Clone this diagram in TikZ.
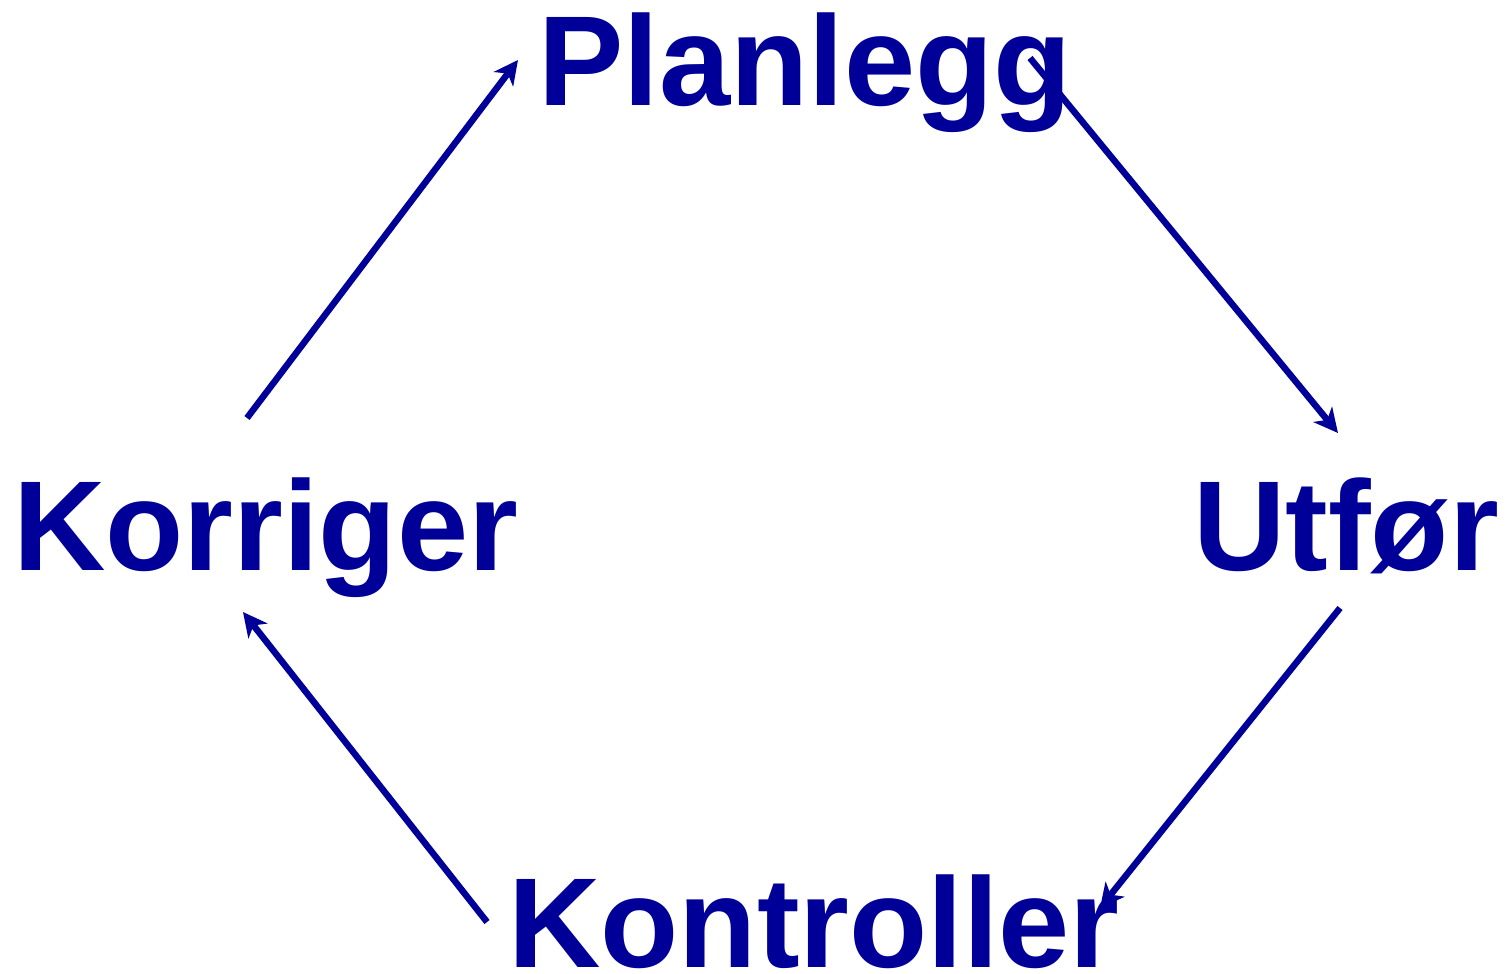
\documentclass[tikz,border=0pt]{standalone}
\usepackage{fontspec}
\setmainfont{Liberation Sans}
\usetikzlibrary{arrows.meta}
\definecolor{navy}{HTML}{000099}
\begin{document}
\begin{tikzpicture}[x=1pt,y=-1pt,
  word/.style={inner sep=0pt,anchor=base west,text=navy,
    font=\fontsize{128}{128}\selectfont\bfseries},
  flow/.style={draw=navy,line width=6.5pt,
    -{Stealth[length=24pt,width=24pt,inset=7pt]}}]
\useasboundingbox (0,0) rectangle (1512,974);
% the four stages
\node[word] (plan) at (538,105) {Planlegg};
\node[word] (utfor) at (1193,570) {Utfør};
\node[word] (kontroll) at (508,967) {Kontroller};
\node[word] (korrig) at (13,570) {Korriger};
% connector ends
\coordinate (korrigOut) at (247,418);
\coordinate (planIn) at (518,60);
\coordinate (planOut) at (1030,58);
\coordinate (utforIn) at (1338,433);
\coordinate (utforOut) at (1340,608);
\coordinate (kontrollIn) at (1100,908);
\coordinate (kontrollOut) at (487,922);
\coordinate (korrigIn) at (243,612);
% the cycle
\draw[flow] (korrigOut) -- (planIn);
\draw[flow] (planOut) -- (utforIn);
\draw[flow] (utforOut) -- (kontrollIn);
\draw[flow] (kontrollOut) -- (korrigIn);
\end{tikzpicture}
\end{document}
